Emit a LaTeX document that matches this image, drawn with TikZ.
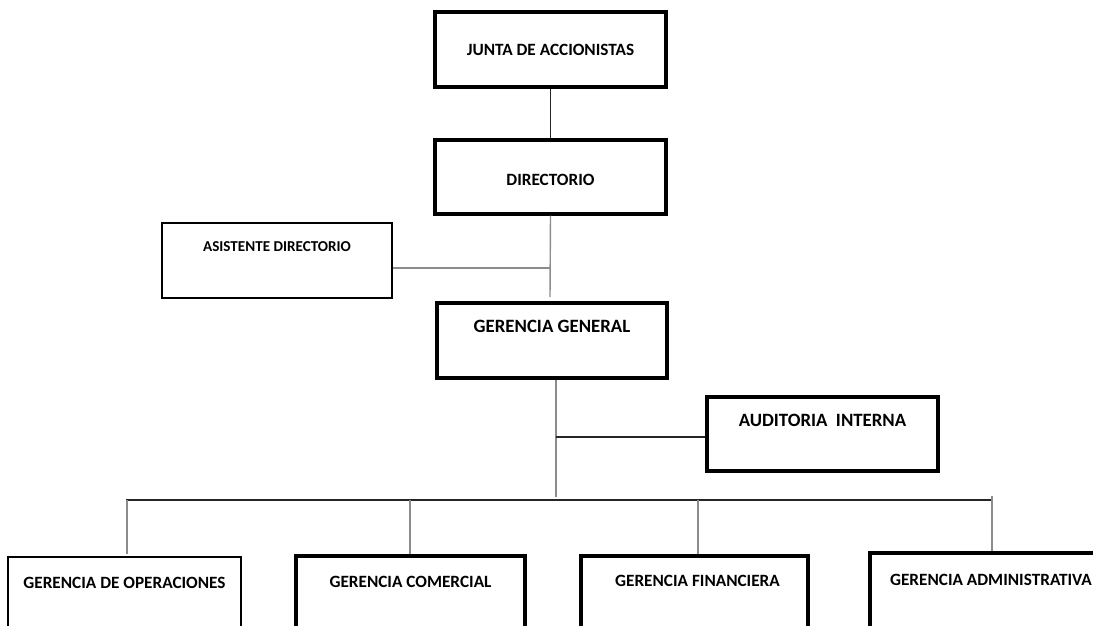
\documentclass[tikz,border=0pt]{standalone}
\usepackage{fontspec}
\setmainfont{Carlito}
\usetikzlibrary{calc,positioning}

\begin{document}
\begin{tikzpicture}[x=0.02cm, y=-0.02cm]
%styles : cadres, textes et traits de liaison
\tikzset{caja/.style={draw, line width=1.8pt, minimum width=4.62cm, minimum height=1.5cm, inner sep=0pt},
cajafina/.style={caja, line width=1.2pt},
texto/.style={font=\fontsize{9.8}{11}\selectfont\bfseries, inner sep=0pt},
textogrande/.style={font=\fontsize{10.7}{12}\selectfont\bfseries, inner sep=0pt},
linea/.style={line width=0.8pt, black!85},
lineagris/.style={line width=0.8pt, gray!90}}

\useasboundingbox (0,0) rectangle (1093,626);
\clip (0,0) rectangle (1093,626);

% niveaux superieurs
\node[caja] (junta) at (550.5,49.5) {};
\node[texto] at (junta.center) {JUNTA DE ACCIONISTAS};
\node[caja, minimum height=1.48cm] (dir) at (550.5,177) {};
\node[texto] at ($(dir.center)+(0,3)$) {DIRECTORIO};
\node[cajafina, minimum width=4.6cm] (asis) at (277,260.5) {};
\node[texto, font=\fontsize{8.6}{10}\selectfont\bfseries] at ($(asis.north)+(0,25)$) {ASISTENTE DIRECTORIO};
\node[caja, minimum width=4.6cm] (gg) at (552,340.5) {};
\node[textogrande] at ($(gg.north)+(0,25)$) {GERENCIA GENERAL};
\node[caja, minimum height=1.48cm] (audit) at (822.5,434) {};
\node[textogrande] at ($(audit.north)+(0,25)$) {AUDITORIA\ \ INTERNA};

% gerencias
\node[caja, minimum width=4.66cm, line width=1.4pt] (oper) at (124.5,594.5) {};
\node[texto] at ($(oper.north)+(0,27)$) {GERENCIA DE OPERACIONES};
\node[caja, minimum width=4.58cm] (com) at (410.5,593.5) {};
\node[texto] at ($(com.north)+(0,27)$) {GERENCIA COMERCIAL};
\node[caja, minimum width=4.54cm] (fin) at (694.5,593.5) {};
\node[texto] at ($(fin.north)+(3,26)$) {GERENCIA FINANCIERA};
\node[caja, minimum width=4.84cm] (adm) at (991,590.5) {};
\node[texto] at ($(adm.north)+(0,28)$) {GERENCIA ADMINISTRATIVA};

% liaisons
\coordinate (c1) at (550,297);
\coordinate (c2) at (550,268);
\coordinate (c3) at (556,497);
\coordinate (c4) at (556,437);
\coordinate (busizq) at (126,500);
\coordinate (busder) at (993,500);

\draw[linea] (junta) -- (dir);
\draw[lineagris] (dir.south) -- (c1);
\draw[lineagris] (asis.east |- c2) -- (c2);
\draw[lineagris] (gg.south -| c3) -- (c3);
\draw[linea] (c4) -- (audit.west |- c4);
\draw[linea] (busizq) -- (busder);
\draw[lineagris] (127,500) -- (127,554);
\draw[lineagris] (410,500) -- (com.north -| 410,0);
\draw[lineagris] (698,500) -- (fin.north -| 698,0);
\draw[lineagris] (992,496) -- (adm.north -| 992,0);
\end{tikzpicture}
\end{document}
